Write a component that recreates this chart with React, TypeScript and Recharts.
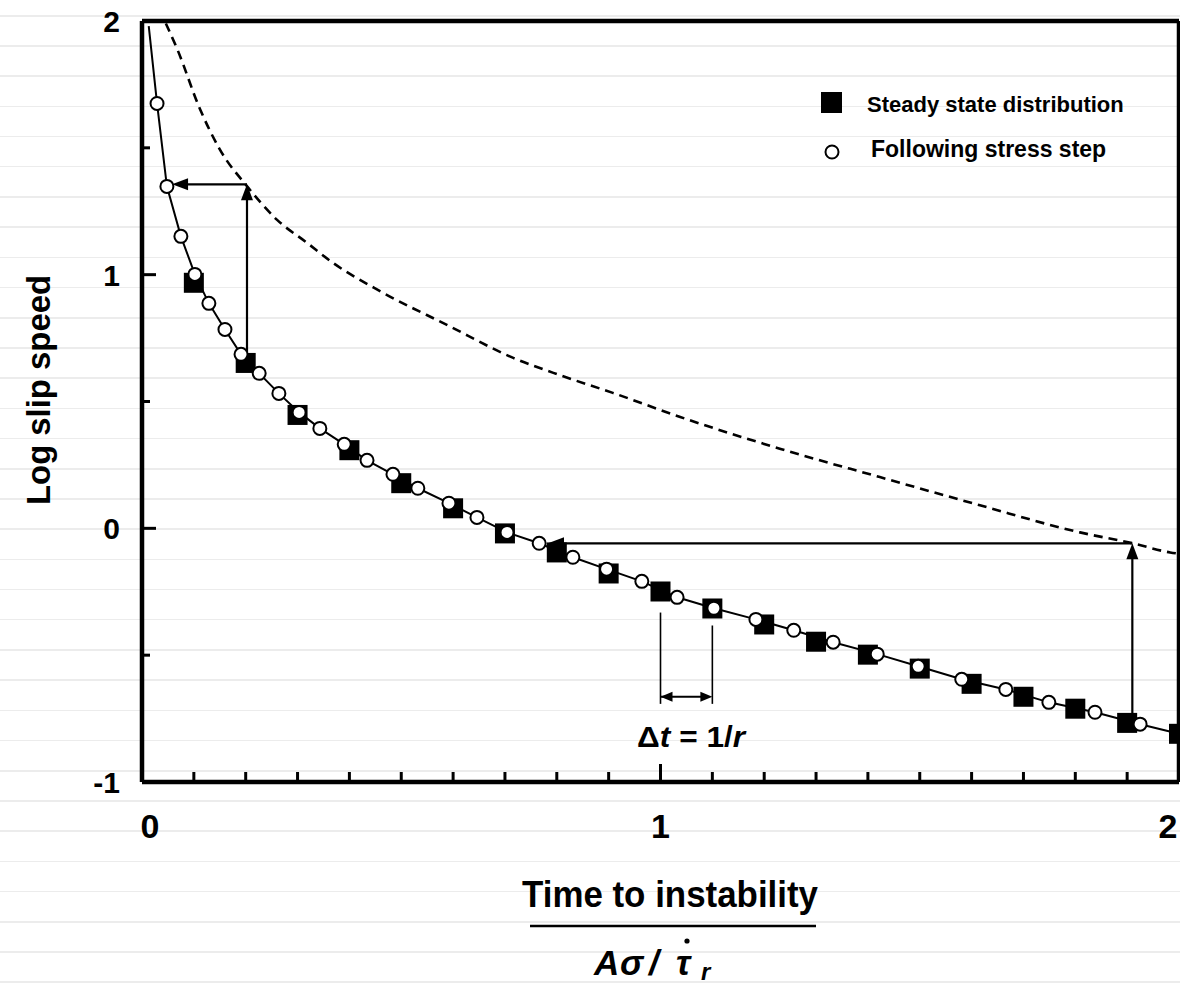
import React from 'react'
import {
  ComposedChart, Line, Scatter, XAxis, YAxis, ReferenceLine, ReferenceDot, Legend,
} from 'recharts'

const FONT = '"Liberation Sans", Arial, Helvetica, sans-serif'
const INK = '#000'

// axis ticks
const X_TICKS = [0, 0.1, 0.2, 0.3, 0.4, 0.5, 0.6, 0.7, 0.8, 0.9, 1, 1.1, 1.2, 1.3, 1.4, 1.5, 1.6, 1.7, 1.8, 1.9, 2]
const X_LABELS = [0, 1, 2]
const Y_TICKS = [-1, -0.5, 0, 0.5, 1, 1.5, 2]
const Y_LABELS = [-1, 0, 1, 2]

// steady state distribution (filled squares)
const STEADY_X = [0.1, 0.2, 0.3, 0.4, 0.5, 0.6, 0.7, 0.8, 0.9, 1.0, 1.1, 1.2, 1.3, 1.4, 1.5, 1.6, 1.7, 1.8, 1.9, 2.0]
const STEADY_Y = [0.968, 0.652, 0.447, 0.308, 0.178, 0.079, -0.02, -0.095, -0.178, -0.249, -0.316, -0.379, -0.447, -0.498, -0.553, -0.613, -0.664, -0.711, -0.767, -0.81]

// following stress step (open circles)
const STEP_X = [0.029, 0.048, 0.075, 0.102, 0.129, 0.16, 0.191, 0.226, 0.264, 0.303, 0.343, 0.39, 0.434, 0.484, 0.532, 0.592, 0.646, 0.704, 0.766, 0.831, 0.896, 0.964, 1.032, 1.103, 1.184, 1.257, 1.333, 1.418, 1.497, 1.581, 1.666, 1.749, 1.838, 1.925]
const STEP_Y = [1.675, 1.348, 1.151, 1.001, 0.887, 0.784, 0.686, 0.611, 0.532, 0.457, 0.394, 0.331, 0.268, 0.213, 0.158, 0.099, 0.043, -0.016, -0.059, -0.114, -0.161, -0.209, -0.272, -0.315, -0.359, -0.402, -0.449, -0.496, -0.544, -0.595, -0.635, -0.686, -0.725, -0.772]
const STEP_LINE_START = { x: 0.013, y: 1.98 }
const STEP_LINE_END = { x: 2.0, y: -0.81 }

// dashed reference curve
const DASHED_X = [0.046, 0.068, 0.112, 0.15, 0.204, 0.26, 0.318, 0.368, 0.459, 0.588, 0.716, 0.81, 0.908, 1.038, 1.23, 1.423, 1.616, 1.809, 1.911, 1.983, 2.0]
const DASHED_Y = [1.99, 1.889, 1.652, 1.494, 1.345, 1.217, 1.126, 1.047, 0.935, 0.802, 0.672, 0.601, 0.534, 0.439, 0.314, 0.202, 0.091, -0.016, -0.059, -0.095, -0.1]

// annotation arrows (data coordinates)
const ARROW_UP_1 = [{ x: 0.2025, y: 0.69 }, { x: 0.2025, y: 1.356 }]
const ARROW_LEFT_1 = [{ x: 0.2025, y: 1.356 }, { x: 0.058, y: 1.356 }]
const ARROW_UP_2 = [{ x: 1.91, y: -0.73 }, { x: 1.91, y: -0.059 }]
const ARROW_LEFT_2 = [{ x: 1.91, y: -0.059 }, { x: 0.783, y: -0.059 }]
const DT_LEFT = [{ x: 1.0, y: -0.332 }, { x: 1.0, y: -0.692 }]
const DT_RIGHT = [{ x: 1.1, y: -0.383 }, { x: 1.1, y: -0.692 }]
const DT_ARROW = [{ x: 1.0, y: -0.664 }, { x: 1.1, y: -0.664 }]
const DT_TEXT = { x: 1.059, y: -0.863 }

const steady = STEADY_X.map((x, i) => ({ x, y: STEADY_Y[i] }))
const step = STEP_X.map((x, i) => ({ x, y: STEP_Y[i] }))
const stepLine = [STEP_LINE_START, ...step, STEP_LINE_END]
const dashed = DASHED_X.map((x, i) => ({ x, y: DASHED_Y[i] }))

const isMajor = (v: number) => Math.abs(v - Math.round(v)) < 1e-6

const BottomTick = ({ x, y, payload }: any) => {
  const v = payload.value
  const major = isMajor(v)
  // first label sits a little right of the axis, last one is pulled inside the frame
  const shift = v === 0 ? 8 : v === 2 ? -11 : 0
  return (
    <g>
      <line x1={x} y1={y} x2={x} y2={y - (major ? 18 : 10)} stroke={INK} strokeWidth={3} />
      {X_LABELS.includes(v) && (
        <text x={x + shift} y={y + 56} textAnchor="middle" fontFamily={FONT}
          fontWeight="bold" fontSize={34} fill={INK}>{v}</text>
      )}
    </g>
  )
}

const TopTick = ({ x, y, payload }: any) => {
  const major = isMajor(payload.value)
  return <line x1={x} y1={y} x2={x} y2={y + (major ? 17 : 9)} stroke={INK} strokeWidth={3} />
}

const LeftTick = ({ x, y, payload }: any) => {
  const v = payload.value
  const major = isMajor(v)
  return (
    <g>
      <line x1={x} y1={y} x2={x + (major ? 14 : 8)} y2={y} stroke={INK} strokeWidth={3} />
      {Y_LABELS.includes(v) && (
        <text x={x - 22} y={y + 11} textAnchor="end" fontFamily={FONT}
          fontWeight="bold" fontSize={30} fill={INK}>{v}</text>
      )}
    </g>
  )
}

const RightTick = ({ x, y, payload }: any) => {
  const major = isMajor(payload.value)
  return <line x1={x} y1={y} x2={x - (major ? 16 : 9)} y2={y} stroke={INK} strokeWidth={3} />
}

const XTitle = ({ viewBox }: any) => {
  const cx = viewBox.x + 528
  return (
    <g fontFamily={FONT} fill={INK}>
      <text x={cx} y={907} textAnchor="middle" fontSize={37} fontWeight="bold"
        textLength={296} lengthAdjust="spacingAndGlyphs">Time to instability</text>
      <line x1={cx - 140} x2={cx + 146} y1={926} y2={926} stroke={INK} strokeWidth={2.5} />
      <text y={975} fontSize={35} fontWeight="bold" fontStyle="italic">
        <tspan x={cx - 76}>A</tspan>
        <tspan x={cx - 50}>σ</tspan>
        <tspan x={cx - 21}>/</tspan>
        <tspan x={cx + 6}>τ</tspan>
        <tspan x={cx + 31} dy={5} fontSize={24}>r</tspan>
      </text>
      <circle cx={cx + 17} cy={941} r={2.6} fill={INK} />
    </g>
  )
}

const YTitle = ({ viewBox }: any) => {
  const x = viewBox.x + 38
  const y = viewBox.y + 369
  return (
    <text x={x} y={y} transform={`rotate(-90, ${x}, ${y})`} textAnchor="middle"
      dominantBaseline="central" fontFamily={FONT} fontWeight="bold" fontSize={34} fill={INK}
      textLength={230} lengthAdjust="spacingAndGlyphs">Log slip speed</text>
  )
}

function arrowShape(both: boolean, L: number, W: number, sw: number) {
  return (p: any) => {
    const { x1, y1, x2, y2 } = p
    const dx = x2 - x1
    const dy = y2 - y1
    const len = Math.hypot(dx, dy) || 1
    const ux = dx / len
    const uy = dy / len
    const nx = -uy
    const ny = ux
    const head = (tx: number, ty: number, sx: number, sy: number) =>
      `${tx},${ty} ${tx - sx * L + nx * W},${ty - sy * L + ny * W} ${tx - sx * L - nx * W},${ty - sy * L - ny * W}`
    return (
      <g>
        <line x1={x1} y1={y1} x2={x2 - ux * L * 0.5} y2={y2 - uy * L * 0.5} stroke={INK} strokeWidth={sw} />
        <polygon points={head(x2, y2, ux, uy)} fill={INK} />
        {both && <polygon points={head(x1, y1, -ux, -uy)} fill={INK} />}
      </g>
    )
  }
}

const SquareDot = ({ cx, cy }: any) => (
  <rect x={cx - 10} y={cy - 10} width={20} height={20} fill={INK} />
)

const OpenDot = ({ cx, cy }: any) => (
  <circle cx={cx} cy={cy} r={6.5} fill="#fff" stroke={INK} strokeWidth={2} />
)

const DtLabel = ({ cx, cy }: any) => (
  <text x={cx} y={cy} textAnchor="middle" fontFamily={FONT} fontWeight="bold" fontSize={30} fill={INK}
    textLength={108} lengthAdjust="spacingAndGlyphs">
    Δ<tspan fontStyle="italic">t</tspan> = 1/<tspan fontStyle="italic">r</tspan>
  </text>
)

const LegendBox = () => (
  <svg width={345} height={75} style={{ display: 'block' }}>
    <rect x={0} y={0} width={21} height={21} fill={INK} />
    <circle cx={11} cy={60} r={6.5} fill="#fff" stroke={INK} strokeWidth={2} />
    <text x={46} y={20} fontFamily={FONT} fontWeight="bold" fontSize={22} fill={INK}>
      Steady state distribution
    </text>
    <text x={50} y={65} fontFamily={FONT} fontWeight="bold" fontSize={23} fill={INK}>
      Following stress step
    </text>
  </svg>
)

export default function App() {
  return (
    <div style={{
      position: 'absolute', left: 0, top: 0, width: 1180, height: 984, overflow: 'hidden',
      background: 'repeating-linear-gradient(to bottom, #fff 0px, #fff 15px, #ececec 15px, #ececec 16.5px, #fff 16.5px, #fff 30.2px)',
    }}>
      <ComposedChart width={1180} height={984} margin={{ top: 20, right: 0, bottom: 0, left: 0 }}>
        <XAxis dataKey="x" type="number" domain={[0, 2]} ticks={X_TICKS} interval={0} height={202}
          axisLine={{ stroke: INK, strokeWidth: 4.5 }} tickLine={false} tickSize={0} tickMargin={0}
          tick={<BottomTick />} label={{ content: <XTitle /> }} />
        <XAxis xAxisId="top" orientation="top" dataKey="x" type="number" domain={[0, 2]} ticks={X_TICKS}
          interval={0} height={1} axisLine={{ stroke: INK, strokeWidth: 4.5 }} tickLine={false}
          tickSize={0} tickMargin={0} tick={<TopTick />} />
        <YAxis dataKey="y" type="number" domain={[-1, 2]} ticks={Y_TICKS} interval={0} width={142}
          axisLine={{ stroke: INK, strokeWidth: 4.5 }} tickLine={false} tickSize={0} tickMargin={0}
          tick={<LeftTick />} label={{ content: <YTitle /> }} />
        <YAxis yAxisId="right" orientation="right" dataKey="y" type="number" domain={[-1, 2]}
          ticks={Y_TICKS} interval={0} width={1} axisLine={{ stroke: INK, strokeWidth: 4.5 }}
          tickLine={false} tickSize={0} tickMargin={0} tick={<RightTick />} />

        <Line data={dashed} dataKey="y" type="monotone" stroke={INK} strokeWidth={2.6}
          strokeDasharray="9 6" dot={false} isAnimationActive={false} />
        <Line data={stepLine} dataKey="y" type="linear" stroke={INK} strokeWidth={2}
          dot={false} isAnimationActive={false} />
        <Scatter data={steady} shape={<SquareDot />} isAnimationActive={false} />
        <Scatter data={step} shape={<OpenDot />} isAnimationActive={false} />

        <ReferenceLine segment={ARROW_UP_1} shape={arrowShape(false, 16, 6, 2.2)} />
        <ReferenceLine segment={ARROW_LEFT_1} shape={arrowShape(false, 16, 6, 2.2)} />
        <ReferenceLine segment={ARROW_UP_2} shape={arrowShape(false, 16, 6, 2.2)} />
        <ReferenceLine segment={ARROW_LEFT_2} shape={arrowShape(false, 16, 6, 2.2)} />
        <ReferenceLine segment={DT_LEFT} stroke={INK} strokeWidth={1.6} />
        <ReferenceLine segment={DT_RIGHT} stroke={INK} strokeWidth={1.6} />
        <ReferenceLine segment={DT_ARROW} shape={arrowShape(true, 12, 5, 2)} />
        <ReferenceDot x={DT_TEXT.x} y={DT_TEXT.y} r={0} shape={<DtLabel />} />

        <Legend layout="horizontal" verticalAlign="middle" align="center" content={<LegendBox />}
          wrapperStyle={{ position: 'absolute', left: 821, top: 92, width: 345 }} />
      </ComposedChart>
    </div>
  )
}
